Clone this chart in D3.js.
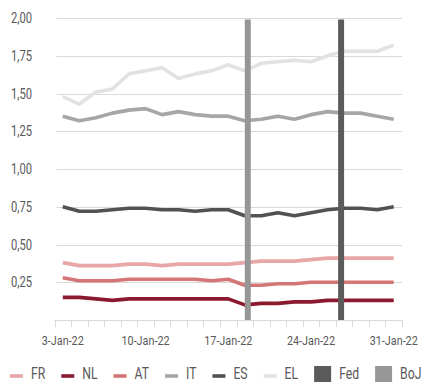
<!DOCTYPE html>
<html>
<head>
<meta charset="utf-8">
<script src="https://cdn.jsdelivr.net/npm/d3@7"></script>
<style>
  html, body { margin: 0; padding: 0; background: #fff; }
  svg { display: block; }
  text { font-family: Roboto, "Liberation Sans", sans-serif; fill: #595959; }
</style>
</head>
<body>
<svg id="chart" width="428" height="382"></svg>
<script>
// Business days of January 2022
const dates = ["3-Jan-22","4-Jan-22","5-Jan-22","6-Jan-22","7-Jan-22",
  "10-Jan-22","11-Jan-22","12-Jan-22","13-Jan-22","14-Jan-22",
  "17-Jan-22","18-Jan-22","19-Jan-22","20-Jan-22","21-Jan-22",
  "24-Jan-22","25-Jan-22","26-Jan-22","27-Jan-22","28-Jan-22",
  "31-Jan-22"];
const dateTicks = ["3-Jan-22","10-Jan-22","17-Jan-22","24-Jan-22","31-Jan-22"];
const yTicks = [0.25, 0.5, 0.75, 1, 1.25, 1.5, 1.75, 2];

// 10-year government bond yields (%)
const FR = [0.38,0.36,0.36,0.36,0.37,0.37,0.36,0.37,0.37,0.37,0.37,0.38,0.39,0.39,0.39,0.40,0.41,0.41,0.41,0.41,0.41];
const NL = [0.15,0.15,0.14,0.13,0.14,0.14,0.14,0.14,0.14,0.14,0.14,0.10,0.11,0.11,0.12,0.12,0.13,0.13,0.13,0.13,0.13];
const AT = [0.28,0.26,0.26,0.26,0.27,0.27,0.27,0.27,0.27,0.26,0.27,0.23,0.23,0.24,0.24,0.25,0.25,0.25,0.25,0.25,0.25];
const IT = [1.35,1.32,1.34,1.37,1.39,1.40,1.36,1.38,1.36,1.35,1.35,1.32,1.33,1.35,1.33,1.36,1.38,1.37,1.37,1.35,1.33];
const ES = [0.75,0.72,0.72,0.73,0.74,0.74,0.73,0.73,0.72,0.73,0.73,0.69,0.69,0.71,0.69,0.71,0.73,0.74,0.74,0.73,0.75];
const EL = [1.48,1.43,1.51,1.53,1.63,1.65,1.67,1.60,1.63,1.65,1.69,1.65,1.70,1.71,1.72,1.71,1.75,1.78,1.78,1.78,1.82];

// Central bank meeting days
const Fed = [0,0,0,0,0,0,0,0,0,0,0,0,0,0,0,0,0,1.99,0,0,0];
const BoJ = [0,0,0,0,0,0,0,0,0,0,0,1.99,0,0,0,0,0,0,0,0,0];

const lineSeries = [
  { name: "FR", values: FR, color: "#e8a6a6" },
  { name: "NL", values: NL, color: "#8c1a2f" },
  { name: "AT", values: AT, color: "#d47676" },
  { name: "IT", values: IT, color: "#a6a6a6" },
  { name: "ES", values: ES, color: "#525252" },
  { name: "EL", values: EL, color: "#e2e2e2" }
];
const barSeries = [
  { name: "Fed", values: Fed, color: "#5b5b5b" },
  { name: "BoJ", values: BoJ, color: "#969696" }
];

const NARROW = 0.8; // horizontal squeeze for a condensed look

const svg = d3.select("#chart");
const plot = { left: 54.5, right: 402, top: 18, bottom: 320 };

const x = d3.scaleBand().domain(dates).range([plot.left, plot.right]).padding(0);
const xSub = d3.scaleBand().domain(barSeries.map(d => d.name))
  .range([x.bandwidth() * 0.14, x.bandwidth() * 0.86]).padding(0);
const y = d3.scaleLinear().domain([0, 2]).range([plot.bottom, plot.top]);

function label(sel, px, py) {
  return sel.attr("transform", d => `translate(${px(d)},${py(d)}) scale(${NARROW},1)`);
}

// Horizontal gridlines
svg.append("g")
  .selectAll("line")
  .data(yTicks)
  .join("line")
  .attr("x1", plot.left + 2).attr("x2", plot.right)
  .attr("y1", d => Math.round(y(d)) + 0.5).attr("y2", d => Math.round(y(d)) + 0.5)
  .attr("stroke", "#d9d9d9").attr("stroke-width", 1);

// Y axis labels
const fmt = d3.format(".2f");
svg.append("g")
  .selectAll("text")
  .data(yTicks)
  .join("text")
  .call(label, () => 32, d => y(d))
  .attr("dy", "0.36em")
  .attr("text-anchor", "end")
  .style("font-size", "14px")
  .text(d => fmt(d).replace(".", ","));

// X axis: line, ticks on category boundaries, labels every week
const xAxis = svg.append("g");
xAxis.append("line")
  .attr("x1", plot.left).attr("x2", plot.right)
  .attr("y1", plot.bottom + 0.5).attr("y2", plot.bottom + 0.5)
  .attr("stroke", "#d9d9d9");
const boundaries = dates.map(d => x(d)).concat([x(dates[dates.length - 1]) + x.bandwidth()]);
xAxis.selectAll("line.tick")
  .data(boundaries)
  .join("line")
  .attr("class", "tick")
  .attr("x1", d => Math.round(d) + 0.5).attr("x2", d => Math.round(d) + 0.5)
  .attr("y1", plot.bottom).attr("y2", plot.bottom + 7)
  .attr("stroke", "#d9d9d9");
xAxis.selectAll("text")
  .data(dateTicks)
  .join("text")
  .call(label, d => x(d) + x.bandwidth() / 2, () => 345)
  .attr("text-anchor", "middle")
  .style("font-size", "13.5px")
  .text(d => d);

// Yield lines
const line = d3.line()
  .x((d, i) => x(dates[i]) + x.bandwidth() / 2)
  .y(d => y(d))
  .curve(d3.curveLinear);
svg.append("g")
  .selectAll("path")
  .data(lineSeries)
  .join("path")
  .attr("d", s => line(s.values))
  .attr("fill", "none")
  .attr("stroke", s => s.color)
  .attr("stroke-width", 3.6)
  .attr("stroke-linejoin", "round")
  .attr("stroke-linecap", "butt");

// Meeting-day bars
const barData = barSeries.flatMap(s => s.values.map((v, i) => ({ s, date: dates[i], v })))
  .filter(d => d.v > 0);
svg.append("g")
  .selectAll("rect")
  .data(barData)
  .join("rect")
  .attr("x", d => x(d.date) + xSub(d.s.name))
  .attr("width", xSub.bandwidth())
  .attr("y", d => y(d.v))
  .attr("height", d => y(0) - y(d.v))
  .attr("fill", d => d.s.color);

// Legend
const LEG = 0.74;
const legend = svg.append("g").attr("transform", "translate(10, 0)");
const legendItems = lineSeries.map(s => ({ name: s.name, color: s.color, type: "line" }))
  .concat(barSeries.map(s => ({ name: s.name, color: s.color, type: "box" })));
let cx = 0;
legendItems.forEach(item => {
  const g = legend.append("g").attr("transform", `translate(${cx}, 0)`);
  let symW;
  if (item.type === "line") {
    symW = 13;
    g.append("line")
      .attr("x1", 0).attr("x2", symW)
      .attr("y1", 376).attr("y2", 376)
      .attr("stroke", item.color).attr("stroke-width", 3.6);
  } else {
    symW = 17;
    g.append("rect")
      .attr("x", 0).attr("y", 366).attr("width", symW).attr("height", 16)
      .attr("fill", item.color);
  }
  const t = g.append("text")
    .attr("transform", `translate(${symW + 8},378.5) scale(${LEG},1)`)
    .style("font-size", "16.5px")
    .text(item.name);
  cx += symW + 8 + t.node().getComputedTextLength() * LEG + 16;
});
</script>
</body>
</html>
